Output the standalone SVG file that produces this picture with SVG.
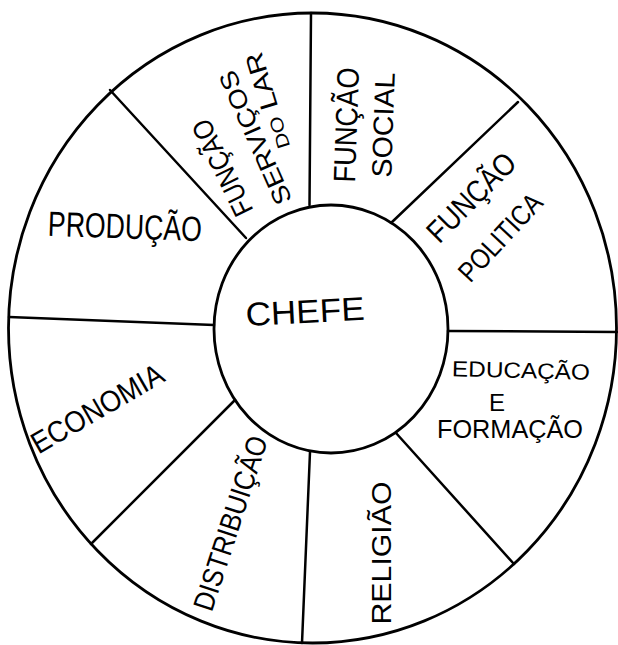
<svg xmlns="http://www.w3.org/2000/svg" width="618" height="645" viewBox="0 0 618 645">
<style>
.ln{fill:none;stroke:#000;stroke-width:2.8;stroke-linecap:round}
.sp{fill:none;stroke:#000;stroke-width:2.5;stroke-linecap:round}
.t{font-family:"Liberation Sans","DejaVu Sans",sans-serif;fill:#000;text-anchor:middle}
</style>
<rect width="618" height="645" fill="#fff"/>
<g id="wheel">
<ellipse class="ln" cx="312.5" cy="328" rx="304" ry="315"/>
</g>
<g id="connectors">
<line class="sp" x1="309.5" y1="205" x2="311" y2="13"/>
<line class="sp" x1="246" y1="238" x2="110" y2="90"/>
<line class="sp" x1="391" y1="223" x2="518" y2="102"/>
<line class="sp" x1="214" y1="325" x2="9" y2="317"/>
<line class="sp" x1="448" y1="331" x2="617" y2="332"/>
<line class="sp" x1="235" y1="400" x2="91" y2="544"/>
<line class="sp" x1="310" y1="452" x2="302" y2="643"/>
<line class="sp" x1="396" y1="433" x2="514" y2="564"/>
</g>
<g id="chefe">
<ellipse class="ln" cx="331" cy="329" rx="117" ry="124"/>
<text class="t" transform="translate(305 311) rotate(-3)" y="12" font-size="33" textLength="119" lengthAdjust="spacingAndGlyphs">CHEFE</text>
</g>
<g id="producao">
<text class="t" transform="translate(125 226) rotate(2)" y="12.5" font-size="35" textLength="154" lengthAdjust="spacingAndGlyphs">PRODUÇÃO</text>
</g>
<g id="funcao-servicos-lar">
<text class="t" transform="translate(222 168) rotate(-116)" y="10" font-size="28" textLength="104" lengthAdjust="spacingAndGlyphs">FUNÇÃO</text>
<text class="t" transform="translate(255 138) rotate(-114)" y="9" font-size="25" textLength="144" lengthAdjust="spacingAndGlyphs">SERVIÇOS</text>
<text class="t" transform="translate(267 101) rotate(-107)" y="9" font-size="25" textLength="100" lengthAdjust="spacingAndGlyphs"><tspan font-size="18">DO</tspan> LAR</text>
</g>
<g id="funcao-social">
<text class="t" transform="translate(346 125) rotate(-88)" y="11" font-size="31" textLength="115" lengthAdjust="spacingAndGlyphs">FUNÇÃO</text>
<text class="t" transform="translate(383 125) rotate(-88)" y="10" font-size="28" textLength="105" lengthAdjust="spacingAndGlyphs">SOCIAL</text>
</g>
<g id="funcao-politica">
<text class="t" transform="translate(471 197) rotate(-45)" y="11" font-size="31" textLength="112" lengthAdjust="spacingAndGlyphs">FUNÇÃO</text>
<text class="t" transform="translate(500 237) rotate(-47)" y="10" font-size="28" textLength="109" lengthAdjust="spacingAndGlyphs">POLITICA</text>
</g>
<g id="educacao-formacao">
<text class="t" transform="translate(521 370) rotate(1.5)" y="8" font-size="22" textLength="138" lengthAdjust="spacingAndGlyphs">EDUCAÇÃO</text>
<text class="t" transform="translate(497 402)" y="8.5" font-size="24">E</text>
<text class="t" transform="translate(510 429)" y="9" font-size="25" textLength="146" lengthAdjust="spacingAndGlyphs">FORMAÇÃO</text>
</g>
<g id="religiao">
<text class="t" transform="translate(381 553) rotate(-90)" y="10" font-size="28" textLength="143" lengthAdjust="spacingAndGlyphs">RELIGIÃO</text>
</g>
<g id="distribuicao">
<text class="t" transform="translate(230 523) rotate(-72)" y="10.5" font-size="29" textLength="182" lengthAdjust="spacingAndGlyphs">DISTRIBUIÇÃO</text>
</g>
<g id="economia">
<text class="t" transform="translate(97 408) rotate(-30)" y="11" font-size="30" textLength="148" lengthAdjust="spacingAndGlyphs">ECONOMIA</text>
</g>
</svg>
